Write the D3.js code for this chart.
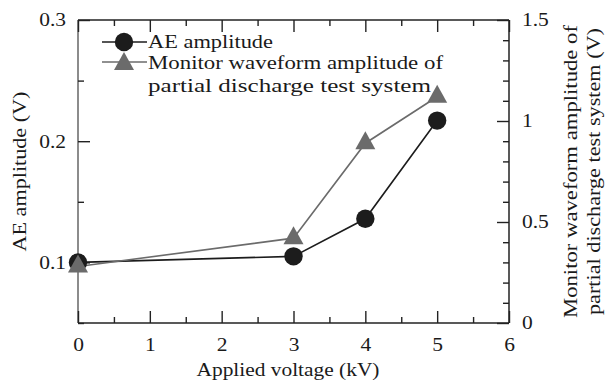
<!DOCTYPE html>
<html><head><meta charset="utf-8">
<script src="https://cdn.jsdelivr.net/npm/d3@7"></script>
<style>
html,body{margin:0;padding:0;background:#fff;}
svg{display:block;}
text{font-family:"Liberation Serif","Times New Roman",serif;fill:#1a1a1a;}
</style></head>
<body>
<svg id="chart" width="606" height="383"></svg>
<script>
// ---- data ----
const voltage = [0, 3, 4, 5];
const aeAmplitude = [0.100, 0.105, 0.136, 0.217];
const monitorAmplitude = [0.28, 0.42, 0.89, 1.12];

const xTicks = [0, 1, 2, 3, 4, 5, 6];
const xMinorTicks = [0.5, 1.5, 2.5, 3.5, 4.5, 5.5];
const leftTicks = [0.1, 0.2, 0.3];
const leftMinorTicks = [0.05, 0.15, 0.25];
const rightTicks = [0, 0.5, 1, 1.5];
const rightMinorTicks = [0.1, 0.2, 0.3, 0.4, 0.6, 0.7, 0.8, 0.9, 1.1, 1.2, 1.3, 1.4];

const seriesNames = ["AE amplitude", "Monitor waveform amplitude of", "partial discharge test system"];
const xTitle = "Applied voltage (kV)";
const leftTitle = "AE amplitude (V)";
const rightTitle = ["Monitor waveform amplitude of", "partial discharge test system (V)"];

// ---- layout ----
const L = 78, R = 509, T = 20, B = 323;
const FS = 18.5;
const STRETCH = 1.16;
const svg = d3.select("#chart");

const x = d3.scaleLinear().domain([0, 6]).range([L, R]);
const yL = d3.scaleLinear().domain([0.05, 0.3]).range([B, T]);
const yR = d3.scaleLinear().domain([0, 1.5]).range([B, T]);

const axisColor = "#222";

function stretch(sel, width) {
  sel.each(function () {
    const w = width || this.getComputedTextLength() * STRETCH;
    d3.select(this).attr("textLength", w).attr("lengthAdjust", "spacingAndGlyphs");
  });
}

function styleAxis(g, color) {
  g.select(".domain").remove();
  g.selectAll(".tick line").attr("stroke", color || axisColor).attr("stroke-width", 1.4);
  g.selectAll(".tick text").attr("font-size", FS).attr("font-family", '"Liberation Serif",serif').attr("fill", "#1a1a1a")
    .call(s => stretch(s));
}

// frame
svg.append("line").attr("x1", L).attr("x2", L).attr("y1", T).attr("y2", B).attr("stroke", "#666").attr("stroke-width", 1.5);
svg.append("line").attr("x1", R).attr("x2", R).attr("y1", T).attr("y2", B).attr("stroke", axisColor).attr("stroke-width", 1.5);
svg.append("line").attr("x1", L).attr("x2", R).attr("y1", T).attr("y2", T).attr("stroke", axisColor).attr("stroke-width", 1.5);
svg.append("line").attr("x1", L).attr("x2", R).attr("y1", B).attr("y2", B).attr("stroke", axisColor).attr("stroke-width", 1.5);

// bottom
svg.append("g").attr("transform", `translate(0,${B})`)
  .call(d3.axisBottom(x).tickValues(xTicks).tickFormat(d3.format("d")).tickSize(-12).tickPadding(15))
  .call(g => styleAxis(g));
svg.append("g").attr("transform", `translate(0,${B})`)
  .call(d3.axisBottom(x).tickValues(xMinorTicks).tickFormat("").tickSize(-6))
  .call(g => styleAxis(g));
// top
svg.append("g").attr("transform", `translate(0,${T})`)
  .call(d3.axisTop(x).tickValues(xTicks).tickFormat("").tickSize(-12))
  .call(g => styleAxis(g));
svg.append("g").attr("transform", `translate(0,${T})`)
  .call(d3.axisTop(x).tickValues(xMinorTicks).tickFormat("").tickSize(-6))
  .call(g => styleAxis(g));
// left
svg.append("g").attr("transform", `translate(${L},0)`)
  .call(d3.axisLeft(yL).tickValues(leftTicks).tickFormat(d3.format(".1f")).tickSize(-12).tickPadding(12))
  .call(g => styleAxis(g));
svg.append("g").attr("transform", `translate(${L},0)`)
  .call(d3.axisLeft(yL).tickValues(leftMinorTicks).tickFormat("").tickSize(-6))
  .call(g => styleAxis(g));
// right
svg.append("g").attr("transform", `translate(${R},0)`)
  .call(d3.axisRight(yR).tickValues(rightTicks).tickFormat(d => d === 0 || d === 1 ? d3.format("d")(d) : d3.format(".1f")(d)).tickSize(-12).tickPadding(13))
  .call(g => styleAxis(g));
svg.append("g").attr("transform", `translate(${R},0)`)
  .call(d3.axisRight(yR).tickValues(rightMinorTicks).tickFormat("").tickSize(-6))
  .call(g => styleAxis(g));

// axis titles
svg.append("text").attr("x", 288).attr("y", 376).attr("text-anchor", "middle").attr("font-size", FS).text(xTitle).call(s => stretch(s, 183));
svg.append("text").attr("transform", `translate(26,${(T + B) / 2}) rotate(-90)`).attr("text-anchor", "middle").attr("font-size", FS).text(leftTitle).call(s => stretch(s, 160));
svg.append("text").attr("transform", `translate(577,${(T + B) / 2}) rotate(-90)`).attr("text-anchor", "middle").attr("font-size", FS).text(rightTitle[0]).call(s => stretch(s, 293));
svg.append("text").attr("transform", `translate(600,${(T + B) / 2}) rotate(-90)`).attr("text-anchor", "middle").attr("font-size", FS).text(rightTitle[1]).call(s => stretch(s, 287));

// series
const aeData = voltage.map((v, i) => ({ x: v, y: aeAmplitude[i] }));
const monData = voltage.map((v, i) => ({ x: v, y: monitorAmplitude[i] }));
const aeColor = "#1c1c1c", monColor = "#6b6b6b";

svg.append("path").datum(aeData)
  .attr("d", d3.line().x(d => x(d.x)).y(d => yL(d.y)))
  .attr("fill", "none").attr("stroke", aeColor).attr("stroke-width", 1.6);
svg.append("path").datum(monData)
  .attr("d", d3.line().x(d => x(d.x)).y(d => yR(d.y)))
  .attr("fill", "none").attr("stroke", monColor).attr("stroke-width", 1.6);

const triPath = "M0,-12L10,6L-10,6Z";
svg.selectAll(".ae").data(aeData).enter().append("circle")
  .attr("cx", d => x(d.x)).attr("cy", d => yL(d.y)).attr("r", 9.2).attr("fill", aeColor);
svg.selectAll(".mon").data(monData).enter().append("path")
  .attr("d", triPath).attr("transform", d => `translate(${x(d.x)},${yR(d.y)})`).attr("fill", monColor);

// legend
const lg = svg.append("g");
lg.append("line").attr("x1", 102).attr("x2", 147).attr("y1", 42).attr("y2", 42).attr("stroke", aeColor).attr("stroke-width", 1.6);
lg.append("circle").attr("cx", 124).attr("cy", 42).attr("r", 9.2).attr("fill", aeColor);
lg.append("line").attr("x1", 102).attr("x2", 147).attr("y1", 62).attr("y2", 62).attr("stroke", monColor).attr("stroke-width", 1.6);
lg.append("path").attr("d", triPath).attr("transform", "translate(124,64)").attr("fill", monColor);
lg.append("text").attr("x", 148).attr("y", 48).attr("font-size", FS).text(seriesNames[0]).call(s => stretch(s, 125));
lg.append("text").attr("x", 148).attr("y", 69).attr("font-size", FS).text(seriesNames[1]).call(s => stretch(s, 295));
lg.append("text").attr("x", 148).attr("y", 92).attr("font-size", FS).text(seriesNames[2]).call(s => stretch(s, 283));
</script>
</body></html>
